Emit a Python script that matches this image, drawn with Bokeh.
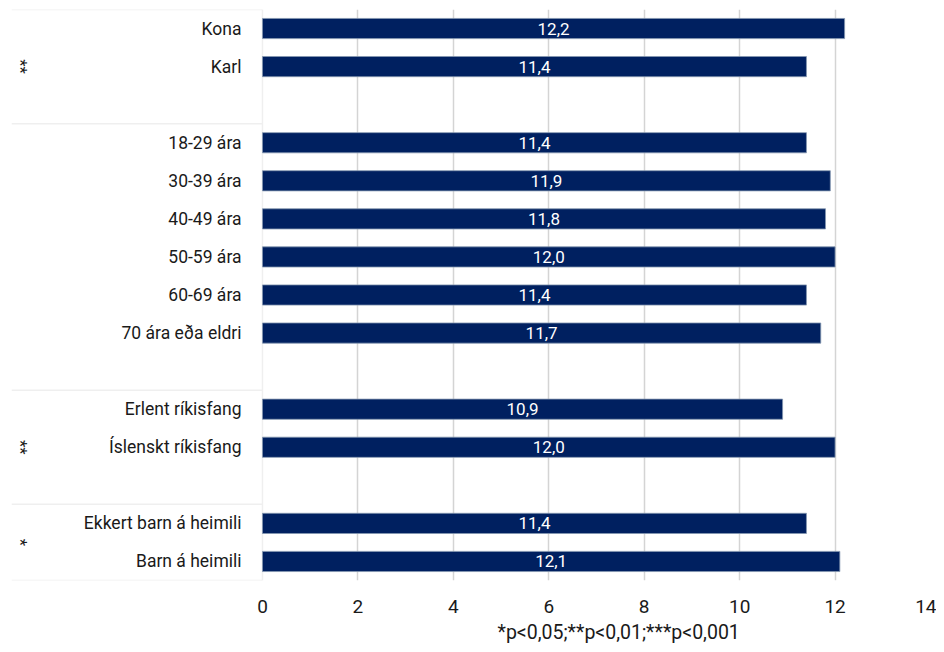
import math
from bokeh.plotting import figure
from bokeh.models import Range1d, FixedTicker, ColumnDataSource, Title
from bokeh.core.properties import value
from bokeh.embed import file_html
from bokeh.resources import INLINE

# ---- data ----
group_labels = [
    ["Kona", "Karl"],
    ["18-29 ára", "30-39 ára", "40-49 ára", "50-59 ára", "60-69 ára", "70 ára eða eldri"],
    ["Erlent ríkisfang", "Íslenskt ríkisfang"],
    ["Ekkert barn á heimili", "Barn á heimili"],
]
group_values = [
    [12.2, 11.4],
    [11.4, 11.9, 11.8, 12.0, 11.4, 11.7],
    [10.9, 12.0],
    [11.4, 12.1],
]
group_stars = ["**", "", "**", "*"]
x_ticks = [0, 2, 4, 6, 8, 10, 12, 14]
note_text = "*p<0,05;**p<0,01;***p<0,001"

FONT = "Roboto"

# ---- layout rows (gap row after each group except the last) ----
rows_y, rows_lab, rows_val = [], [], []
star_y, star_t = [], []
bounds = [-0.5]
r = 0
for gi, (labs, vals) in enumerate(zip(group_labels, group_values)):
    start = r
    for lab, v in zip(labs, vals):
        rows_y.append(r); rows_lab.append(lab); rows_val.append(v)
        r += 1
    if gi < len(group_labels) - 1:
        r += 1
    end = r - 1
    if group_stars[gi]:
        star_y.append((start + end) / 2); star_t.append(group_stars[gi])
    bounds.append(r - 0.5)
n_rows = r

XMIN = -5.26
XMAX = 14

p = figure(width=936, height=646, output_backend="svg", toolbar_location=None,
           x_range=Range1d(XMIN, XMAX), y_range=Range1d(n_rows - 0.5, -0.5),
           min_border_left=11, min_border_right=6, min_border_top=9, min_border_bottom=4)
p.outline_line_color = None
p.yaxis.visible = False
p.ygrid.grid_line_color = None
p.xgrid.ticker = FixedTicker(ticks=x_ticks[1:])
p.xgrid.grid_line_color = "#d4d4d4"
p.xgrid.grid_line_width = 1.5
xa = p.xaxis[0]
xa.ticker = FixedTicker(ticks=x_ticks)
xa.axis_line_color = None
xa.major_tick_line_color = None
xa.minor_tick_line_color = None
xa.major_label_text_font = FONT
xa.major_label_text_font_size = "19px"
xa.major_label_text_color = "#1a1a1a"
xa.major_label_standoff = 13

note = Title(text=note_text, align="left", offset=486, text_font=FONT,
             text_font_size="19.5px", text_font_style="normal", text_color="#1a1a1a",
             standoff=6)
p.add_layout(note, "below")

# table lines in label area
p.segment(x0=[XMIN] * len(bounds), x1=[0] * len(bounds), y0=bounds, y1=bounds,
          line_color="#efefef", line_width=1.5)
p.segment(x0=[0], x1=[0], y0=[-0.5], y1=[n_rows - 0.5], line_color="#efefef", line_width=1.5)

src = ColumnDataSource(dict(y=rows_y, v=rows_val, lab=rows_lab,
                            mid=[v / 2 for v in rows_val],
                            txt=[f"{v:.1f}".replace(".", ",") for v in rows_val]))
p.hbar(y="y", left=0, right="v", height=0.53, source=src,
       fill_color="#002060", line_color="#8497b0", line_width=0.8)
p.text(x="mid", y="y", text="txt", source=src, text_color="white",
       text_font=value(FONT), text_font_size="17px", text_align="center", text_baseline="middle")
p.text(x=-0.44, y="y", text="lab", source=src, text_color="#1a1a1a",
       text_font=value(FONT), text_font_size="17.5px", text_align="right", text_baseline="middle")
p.text(x=[XMIN + 0.2] * len(star_y), y=star_y, text=star_t, angle=-math.pi / 2,
       text_color="#1a1a1a", text_font=value(FONT), text_font_size="17px",
       text_align="center", text_baseline="middle")

open("out.html", "w").write(file_html(p, INLINE))
